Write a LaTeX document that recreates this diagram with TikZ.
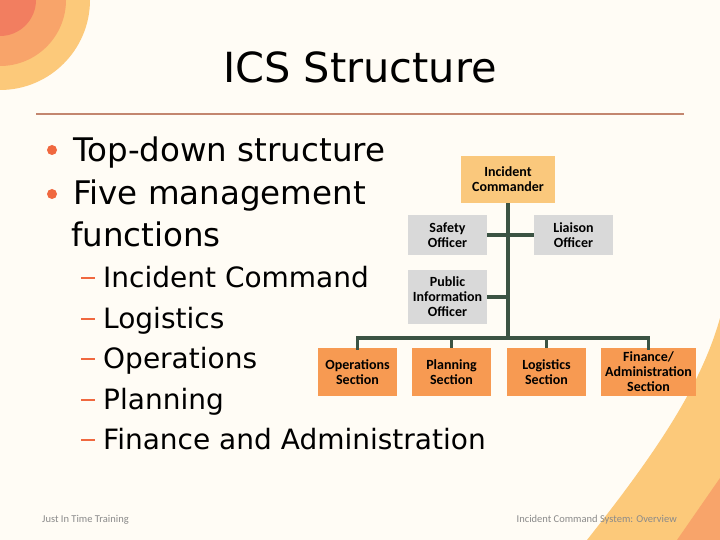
\documentclass[tikz,border=0pt]{standalone}
\usepackage{fontspec}
\setmainfont{DejaVu Sans}
\newfontfamily\carlito{Carlito}
\definecolor{bgc}{HTML}{FFFCF5}
\definecolor{ylw}{HTML}{FCC97A}
\definecolor{midor}{HTML}{F8A46A}
\definecolor{salmon}{HTML}{F27E60}
\definecolor{rule}{HTML}{C3866F}
\definecolor{dotc}{HTML}{F0683F}
\definecolor{icfill}{HTML}{FAC87C}
\definecolor{grayfill}{HTML}{D9D9D9}
\definecolor{secfill}{HTML}{F79A52}
\definecolor{linec}{HTML}{3B5343}
\definecolor{footc}{HTML}{8A8A8A}
\tikzset{
  box/.style={draw=none, inner sep=0pt, align=center, text=black,
    font=\carlito\bfseries\fontsize{14}{15}\selectfont},
  icbox/.style={box, fill=icfill, minimum width=94pt, minimum height=47pt},
  offbox/.style={box, fill=grayfill, minimum width=79pt},
  secbox/.style={box, fill=secfill, minimum width=79pt, minimum height=48pt},
  conn/.style={draw=linec, line width=3.5pt},
  bigtxt/.style={anchor=base west, inner sep=0pt, font=\fontsize{32.5}{37}\selectfont},
  subtxt/.style={anchor=base west, inner sep=0pt, font=\fontsize{28}{33}\selectfont},
  dashmark/.style={draw=dotc, line width=1.6pt},
  foot/.style={inner sep=0pt, text=footc, font=\carlito\fontsize{10.5}{12}\selectfont}
}
\begin{document}
\begin{tikzpicture}[x=1pt,y=-1pt]
\fill[bgc] (0,0) rectangle (720,540);
\useasboundingbox (0,0) rectangle (720,540);
% top-left circles
\fill[ylw] (0,0) circle (90);
\fill[midor] (0,0) circle (66);
\fill[salmon] (0,0) circle (36);
% bottom-right shapes
\fill[ylw] (720,318) .. controls (700,390) and (650,460) .. (587,540) -- (720,540) -- cycle;
\fill[midor] (720,478) -- (677,540) -- (720,540) -- cycle;
% title
\node[inner sep=0pt, font=\fontsize{41.5}{48}\selectfont] (title) at (360,67) {ICS Structure};
\draw[rule, line width=2pt] (36,114) -- (684,114);
% bullets
\fill[dotc] (52,150) circle (5);
\fill[dotc] (52,194) circle (5);
\node[bigtxt] (b1) at (73,162) {Top-down structure};
\node[bigtxt] (b2) at (73,205) {Five management};
\node[bigtxt] (b3) at (71,246) {functions};
\foreach \y/\t [count=\i] in {287/Incident Command,328/Logistics,368/Operations,409/Planning,449/Finance and Administration}{
  \draw[dashmark] (81,\y-9) -- (95,\y-9);
  \node[subtxt] (s\i) at (103,\y) {\t};
}
% chart
\node[icbox] (ic) at (508,179.5) {Incident\\Commander};
\node[offbox, minimum height=40pt] (safety) at (447.5,235) {Safety\\Officer};
\node[offbox, minimum height=40pt] (liaison) at (573.5,235) {Liaison\\Officer};
\node[offbox, minimum height=54pt] (pio) at (447.5,297) {Public\\Information\\Officer};
\node[secbox] (ops) at (357.5,372) {Operations\\Section};
\node[secbox] (plan) at (451.5,372) {Planning\\Section};
\node[secbox] (logi) at (546.5,372) {Logistics\\Section};
\node[secbox, minimum width=95pt] (fin) at (648.5,372) {Finance/\\Administration\\Section};
\coordinate (bus) at (508,338);
\draw[conn] (ic.south) -- (bus);
\draw[conn] (safety.east) -- (liaison.west);
\draw[conn] (pio.east) -- (pio.east -| ic.south);
\draw[conn, line cap=rect] (ops.north) -- (ops.north |- bus) -- (fin.north |- bus) -- (fin.north);
\draw[conn] (plan.north) -- (plan.north |- bus);
\draw[conn] (logi.north) -- (logi.north |- bus);
% footer
\node[foot, anchor=base west] (f1) at (42,522) {Just In Time Training};
\node[foot, anchor=base east] (f2) at (677,522) {Incident Command System: Overview};
\end{tikzpicture}
\end{document}
